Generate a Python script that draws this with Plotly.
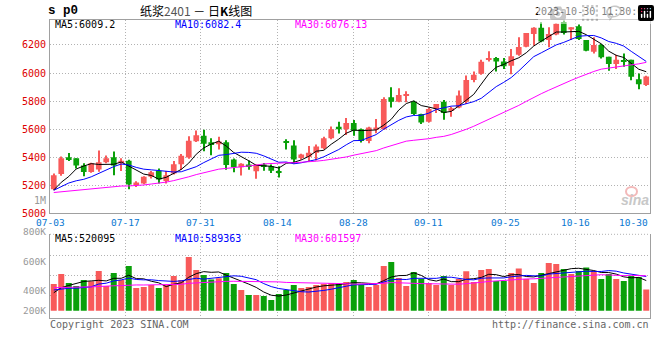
import pandas as pd
import plotly.graph_objects as go

W, H = 660, 360

# ---------------- data ----------------
tick_labels = ["07-03", "07-17", "07-31", "08-14", "08-28", "09-11", "09-25", "10-16", "10-30"]

open_ = [5171, 5280, 5400, 5393, 5340, 5294, 5313, 5364, 5400, 5357,
         5374, 5200, 5212, 5260, 5304, 5231, 5284, 5349, 5398, 5513,
         5552, 5506, 5492, 5506, 5383, 5328, 5347, 5299, 5347, 5335,
         5299, 5511, 5484, 5395, 5402, 5431, 5463, 5535, 5617, 5600,
         5643, 5600, 5516, 5595, 5600, 5827, 5796, 5839, 5796, 5708,
         5653, 5743, 5796, 5731, 5755, 5796, 5951, 5994, 6097, 6107,
         6083, 6052, 6131, 6188, 6279, 6322, 6236, 6274, 6363, 6310,
         6334, 6236, 6152, 6200, 6116, 6064, 6088, 6095, 5956, 5915]
high = [5284, 5405, 5429, 5393, 5357, 5361, 5448, 5412, 5441, 5393,
        5381, 5229, 5265, 5301, 5320, 5301, 5373, 5422, 5549, 5590,
        5595, 5535, 5545, 5520, 5390, 5356, 5376, 5347, 5359, 5347,
        5335, 5528, 5520, 5424, 5479, 5491, 5545, 5619, 5653, 5680,
        5665, 5605, 5617, 5672, 5827, 5899, 5892, 5870, 5803, 5710,
        5755, 5779, 5808, 5760, 5875, 5982, 6011, 6095, 6155, 6114,
        6107, 6171, 6255, 6286, 6327, 6362, 6327, 6355, 6375, 6327,
        6346, 6236, 6255, 6207, 6116, 6131, 6140, 6095, 5997, 5980]
low = [5164, 5267, 5373, 5320, 5265, 5289, 5296, 5357, 5272, 5301,
       5171, 5188, 5207, 5248, 5212, 5212, 5277, 5308, 5388, 5508,
       5443, 5414, 5455, 5311, 5292, 5270, 5311, 5246, 5304, 5287,
       5255, 5455, 5354, 5383, 5366, 5376, 5455, 5528, 5569, 5559,
       5552, 5504, 5500, 5571, 5595, 5755, 5791, 5791, 5700, 5636,
       5648, 5715, 5667, 5688, 5748, 5779, 5935, 5987, 6083, 6011,
       6028, 5992, 6124, 6183, 6195, 6219, 6183, 6269, 6274, 6236,
       6236, 6155, 6140, 6104, 6016, 6028, 6044, 5949, 5884, 5908]
close = [5272, 5393, 5386, 5340, 5294, 5357, 5364, 5393, 5340, 5374,
         5205, 5219, 5260, 5292, 5241, 5272, 5349, 5410, 5518, 5557,
         5496, 5487, 5511, 5345, 5328, 5354, 5335, 5347, 5335, 5304,
         5292, 5504, 5383, 5419, 5431, 5477, 5535, 5600, 5600, 5643,
         5588, 5516, 5612, 5612, 5815, 5796, 5844, 5844, 5708, 5648,
         5743, 5779, 5715, 5748, 5840, 5950, 5987, 6080, 6107, 6083,
         6048, 6120, 6185, 6286, 6322, 6224, 6279, 6351, 6286, 6327,
         6243, 6159, 6200, 6112, 6064, 6095, 6083, 5973, 5920, 5975]
volume = [460000, 632000, 477000, 425000, 529000, 506000, 684000, 425000, 650000, 529000,
          770000, 391000, 409000, 443000, 391000, 443000, 598000, 529000, 926000, 702000,
          615000, 540000, 558000, 650000, 460000, 357000, 270000, 270000, 253000, 184000,
          287000, 357000, 443000, 391000, 409000, 443000, 460000, 477000, 460000, 495000,
          529000, 443000, 409000, 443000, 770000, 840000, 564000, 425000, 667000, 546000,
          477000, 443000, 598000, 443000, 546000, 680000, 495000, 702000, 718000, 512000,
          512000, 650000, 728280, 546000, 477000, 650000, 822000, 805000, 718000, 632000,
          684000, 747155, 684000, 546000, 632000, 546000, 512000, 598000, 580475, 364000]

# sessions before 07-03 (estimated from where the moving-average lines start)
prior_close = [5230, 5250, 5220, 5200, 5180, 5210, 5190, 5200, 5170, 5190,
               5150, 5120, 5090, 5060, 5040, 5030, 5050, 5070, 5080, 5074,
               5110, 5150, 5180, 5190, 5178, 5120, 5180, 5070, 5190]
prior_volume = [450000, 420000, 390000, 430000, 460000, 410000, 380000, 400000, 440000, 420000,
                400000, 430000, 410000, 390000, 420000, 440000, 400000, 410000, 430000, 410000,
                420000, 390000, 410000, 400000, 400000, 200000, 280000, 260000, 350000]

# ---------------- styles / layout constants ----------------
RED = "#f85a5a"
GREEN = "#0aa00a"
MONO = "DejaVu Sans Mono"
GRID = "#b2b2b2"
BORDER = "#a0a0a0"
DOT = "1px,2px"
MA_CFG = [(5, "#000000"), (10, "#0000ff"), (30, "#ff00ff")]
grid_pos = [-0.5, 9.5, 19.63, 29.77, 39.9, 50.03, 60.17, 69.5]

X0, X1 = 50 / W, 650 / W


def py(p):
    return 1 - p / H


def px(p):
    return p / W


def ma(prior, vals, n):
    s = pd.Series(list(prior) + list(vals), dtype=float).rolling(n).mean()
    return s.iloc[len(prior):].tolist()


idx = list(range(len(close)))
colors = [RED if c >= o else GREEN for o, c in zip(open_, close)]

fig = go.Figure()

# wicks
fig.add_trace(go.Bar(x=idx, y=[h - l for h, l in zip(high, low)], base=low, width=0.14,
                     marker=dict(color=colors, line=dict(width=0)), xaxis="x", yaxis="y"))
# bodies
MINB = 7
body_h = [max(abs(c - o), MINB) for o, c in zip(open_, close)]
body_b = [min(o, c) - (bh - abs(c - o)) / 2 for o, c, bh in zip(open_, close, body_h)]
fig.add_trace(go.Bar(x=idx, y=body_h, base=body_b, width=0.76,
                     marker=dict(color=colors, line=dict(width=0)), xaxis="x", yaxis="y"))
price_ma = {}
for n, col in MA_CFG:
    price_ma[n] = ma(prior_close, close, n)
    fig.add_trace(go.Scatter(x=idx, y=price_ma[n], mode="lines", line=dict(color=col, width=1),
                             xaxis="x", yaxis="y"))

fig.add_trace(go.Bar(x=idx, y=volume, width=0.8, marker=dict(color=colors, line=dict(width=0)),
                     xaxis="x2", yaxis="y2"))
vol_ma = {}
for n, col in MA_CFG:
    vol_ma[n] = ma(prior_volume, volume, n)
    fig.add_trace(go.Scatter(x=idx, y=vol_ma[n], mode="lines", line=dict(color=col, width=1),
                             xaxis="x2", yaxis="y2"))

ax_common = dict(showticklabels=False, ticks="", zeroline=False, fixedrange=True,
                 showgrid=True, gridcolor=GRID, griddash=DOT, gridwidth=1,
                 linecolor=BORDER, linewidth=1, showline=True)

fig.update_layout(
    width=W, height=H, margin=dict(l=0, r=0, t=0, b=0),
    paper_bgcolor="white", plot_bgcolor="white", showlegend=False,
    barmode="overlay", hovermode=False,
    xaxis=dict(domain=[X0, X1], range=[-0.5, 79.5], tickvals=grid_pos[1:], mirror=True,
               anchor="y", **ax_common),
    yaxis=dict(domain=[py(213.3), py(20)], range=[5000, 6378],
               tickvals=[5200, 5400, 5600, 5800, 6000, 6200], mirror=True, anchor="x", **ax_common),
    xaxis2=dict(domain=[X0, X1], range=[-0.5, 79.5], tickvals=grid_pos[1:], mirror=False,
                anchor="y2", **ax_common),
    yaxis2=dict(domain=[py(318.3), py(234.3)], range=[-131100, 1317900],
                tickvals=[270800, 615800, 960800], mirror=True, anchor="x2", **ax_common),
)

shapes = [
    dict(type="line", xref="paper", yref="paper", x0=X0, x1=X1, y0=py(234.3), y1=py(234.3),
         line=dict(color=GRID, width=1, dash=DOT)),
    dict(type="circle", xref="paper", yref="paper", x0=px(626), x1=px(637), y0=py(196), y1=py(187),
         line=dict(color="#f3b9b9", width=2)),
]
fig.update_layout(shapes=shapes)

anns = []


def ann(text, x, y, xanchor="left", color="#000", size=10, family=MONO, xref="paper", yref="paper", **kw):
    anns.append(dict(text=text, x=x, y=y, xref=xref, yref=yref, xanchor=xanchor, yanchor="middle",
                     showarrow=False, font=dict(family=family, size=size, color=color),
                     borderpad=0, **kw))


# header
ann("<b>s p0</b>", px(47), py(10.5), size=12.5, family="Liberation Mono")
ann("纸浆<span style='color:#555'>2401</span> － 日<b>K</b>线图", px(139), py(10), size=12,
    family="Noto Sans CJK SC")
ann("2023-10-30 11:30:00", px(650), py(11.5), xanchor="right")

# price legend
ann(f"MA5:{price_ma[5][-1]:.1f}", px(54), py(24.5), color="#000000")
ann(f"MA10:{price_ma[10][-1]:.1f}", px(174), py(24.5), color="#0000ff")
ann(f"MA30:{price_ma[30][-1]:.2f}", px(294), py(24.5), color="#ff00ff")

# price tick labels
for v in [5000, 5200, 5400, 5600, 5800, 6000, 6200, 6400]:
    ann(str(v), px(47), v, xanchor="right", color="#dd0000", yref="y")
ann("1M", px(47), py(200), xanchor="right", color="#999999")

# date labels
for lab, pos in zip(tick_labels[:-1], grid_pos):
    ann(lab, pos, py(222.5), xanchor="center", color="#0a78d2", size=9.5, xref="x")
ann(tick_labels[-1], px(649), py(222.5), xanchor="right", color="#0a78d2", size=9.5)

# volume legend
ann(f"MA5:{vol_ma[5][-1]:.0f}", px(54), py(238.5), color="#000000")
ann(f"MA10:{vol_ma[10][-1]:.0f}", px(174), py(238.5), color="#0000ff")
ann(f"MA30:{vol_ma[30][-1]:.0f}", px(294), py(238.5), color="#ff00ff")

# volume tick labels
for lab, yy in [("800K", 231.5), ("600K", 261.7), ("400K", 290.7), ("200K", 310)]:
    ann(lab, px(47), py(yy), xanchor="right", color="#999999", size=9.5)

# footer
ann("Copyright 2023 SINA.COM", px(49), py(324.5), color="#666666")
ann("http://finance.sina.com.cn", px(650), py(324.5), xanchor="right", color="#666666")

# watermark
ann("<b><i>sina</i></b>", px(635), py(200), xanchor="center", color="#c8c8c8", size=14,
    family="Liberation Sans")

fig.update_layout(annotations=anns)
fig.write_html(
    "out.html",
    post_script="document.body.style.margin='0px';document.body.style.padding='0px';"
                "document.body.style.overflow='hidden';",
)
